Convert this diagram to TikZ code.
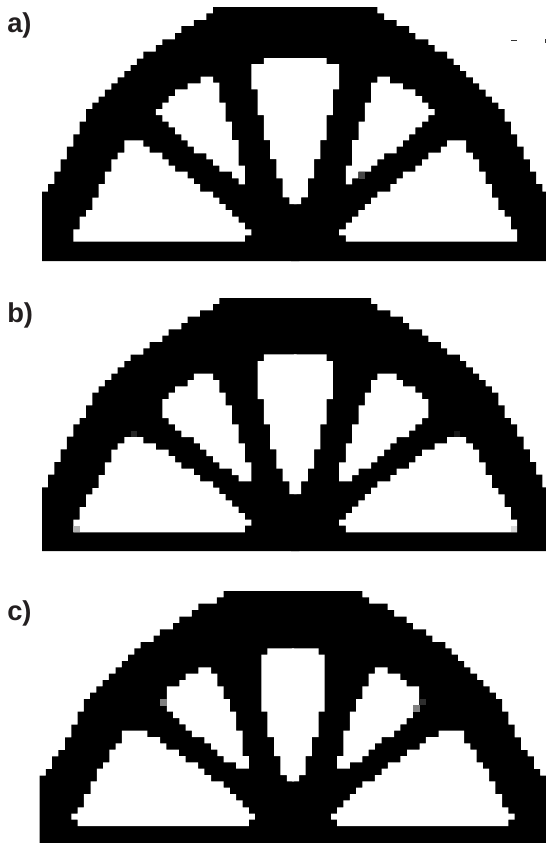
\documentclass[tikz,border=0pt]{standalone}
\usepackage{fontspec}
\setmainfont{Liberation Sans}
\definecolor{lab}{HTML}{231F20}
\newcommand{\mirrored}[2]{#2\begin{scope}[x=-0.26114pt,shift={(-#1,0)}]#2\end{scope}}
\tikzset{
  panel/.style={x=0.26114pt,y=-0.25pt,shift={(0,#1)}},
  solid part/.style={fill=black},
  hole/.style={fill=white},
  panel label/.style={anchor=base west,inner sep=0pt,font=\fontsize{20.5pt}{21pt}\selectfont\bfseries,text=lab}
}
\begin{document}
\begin{tikzpicture}[x=0.75pt,y=-0.75pt]
\useasboundingbox (0,0) rectangle (546,843);
\fill[white] (0,0) rectangle (546,843);
\clip (0,0) rectangle (546,843);
% ---------- panel a
\begin{scope}[panel=0]
\mirrored{1696}{%
\path[solid part] (860,783)--(121,783)--(121,575)--(138,575)--(138,552)--(156,552)--(156,515)--(174,515)--(174,478)--(192,478)--(192,440)--(211,440)--(211,403)--(229,403)--(229,365)--(247,365)--(247,327)--(265,327)--(265,308)--(283,308)--(283,290)--(301,290)--(301,269)--(320,269)--(320,250)--(338,250)--(338,232)--(357,232)--(357,213)--(375,213)--(375,195)--(393,195)--(393,176)--(412,176)--(412,155)--(448,155)--(448,135)--(466,135)--(466,118)--(503,118)--(503,99)--(521,99)--(521,78)--(557,78)--(557,60)--(593,60)--(593,40)--(612,40)--(612,21)--(860,21)--cycle;
}
\mirrored{1696}{%
\path[hole] (852,174)--(758,174)--(758,192)--(722,192)--(722,268)--(740,268)--(740,345)--(758,345)--(758,420)--(776,420)--(776,477)--(794,477)--(794,535)--(812,535)--(812,592)--(831,592)--(831,612)--(852,612)--cycle;
\path[hole] (576,230)--(612,230)--(612,248)--(630,248)--(630,308)--(648,308)--(648,365)--(666,365)--(666,420)--(685,420)--(685,497)--(703,497)--(703,553)--(685,553)--(685,535)--(667,535)--(667,515)--(630,515)--(630,497)--(612,497)--(612,478)--(593,478)--(593,460)--(557,460)--(557,440)--(539,440)--(539,421)--(521,421)--(521,403)--(503,403)--(503,382)--(484,382)--(484,365)--(466,365)--(466,345)--(448,345)--(448,327)--(466,327)--(466,308)--(484,308)--(484,288)--(503,288)--(503,268)--(539,268)--(539,250)--(576,250)--cycle;
\path[hole] (211,725)--(211,688)--(229,688)--(229,650)--(247,650)--(247,630)--(265,630)--(265,593)--(283,593)--(283,552)--(301,552)--(301,515)--(320,515)--(320,478)--(338,478)--(338,458)--(357,458)--(357,421)--(412,421)--(412,440)--(430,440)--(430,458)--(466,458)--(466,478)--(484,478)--(484,497)--(503,497)--(503,515)--(539,515)--(539,535)--(557,535)--(557,552)--(575,552)--(575,575)--(612,575)--(612,593)--(630,593)--(630,612)--(648,612)--(648,630)--(667,630)--(667,650)--(685,650)--(685,668)--(703,668)--(703,688)--(722,688)--(722,706)--(703,706)--(703,725)--cycle;
}
\fill[black!72] (1030,516) rectangle (1048,536);
\fill[black!80] (1468,120) rectangle (1484,124);
\fill[black!80] (1564,118) rectangle (1568,130);
\end{scope}
% ---------- panel b
\begin{scope}[panel=855]
\mirrored{1696}{%
\path[solid part] (860,798)--(121,798)--(121,607)--(138,607)--(138,569)--(156,569)--(156,531)--(174,531)--(174,493)--(192,493)--(192,455)--(211,455)--(211,418)--(229,418)--(229,399)--(247,399)--(247,361)--(265,361)--(265,323)--(283,323)--(283,304)--(301,304)--(301,285)--(320,285)--(320,266)--(338,266)--(338,247)--(357,247)--(357,228)--(375,228)--(375,209)--(412,209)--(412,190)--(430,190)--(430,171)--(466,171)--(466,152)--(484,152)--(484,133)--(521,133)--(521,114)--(539,114)--(539,95)--(575,95)--(575,76)--(612,76)--(612,57)--(630,57)--(630,39)--(860,39)--cycle;
}
\mirrored{1696}{%
\path[hole] (852,208)--(758,208)--(758,228)--(740,228)--(740,342)--(758,342)--(758,418)--(776,418)--(776,493)--(794,493)--(794,551)--(812,551)--(812,589)--(831,589)--(831,627)--(852,627)--cycle;
\path[hole] (557,266)--(612,266)--(612,285)--(630,285)--(630,323)--(648,323)--(648,361)--(666,361)--(666,418)--(685,418)--(685,475)--(703,475)--(703,532)--(722,532)--(722,589)--(685,589)--(685,570)--(666,570)--(666,551)--(630,551)--(630,532)--(612,532)--(612,513)--(593,513)--(593,494)--(575,494)--(575,475)--(557,475)--(557,456)--(521,456)--(521,437)--(503,437)--(503,418)--(484,418)--(484,399)--(466,399)--(466,342)--(484,342)--(484,323)--(503,323)--(503,304)--(539,304)--(539,285)--(557,285)--cycle;
\path[hole] (211,742)--(211,704)--(229,704)--(229,666)--(247,666)--(247,628)--(265,628)--(265,609)--(283,609)--(283,570)--(301,570)--(301,532)--(320,532)--(320,494)--(338,494)--(338,475)--(357,475)--(357,456)--(412,456)--(412,475)--(448,475)--(448,494)--(484,494)--(484,513)--(503,513)--(503,532)--(521,532)--(521,551)--(557,551)--(557,570)--(575,570)--(575,589)--(612,589)--(612,608)--(630,608)--(630,627)--(648,627)--(648,646)--(667,646)--(667,665)--(685,665)--(685,684)--(703,684)--(703,704)--(722,704)--(722,722)--(703,722)--(703,742)--cycle;
}
\fill[black!30] (211,722) rectangle (229,742);
\fill[black!15] (1467,722) rectangle (1486,742);
\fill[black!85] (375,437) rectangle (393,456);
\fill[black!90] (1303,437) rectangle (1321,456);
\end{scope}
% ---------- panel c
\begin{scope}[panel=1710]
\mirrored{1683}{%
\path[solid part] (850,830)--(114,830)--(114,617)--(132,617)--(132,597)--(150,597)--(150,559)--(168,559)--(168,540)--(187,540)--(187,502)--(205,502)--(205,464)--(223,464)--(223,425)--(241,425)--(241,387)--(259,387)--(259,368)--(277,368)--(277,349)--(295,349)--(295,330)--(313,330)--(313,311)--(332,311)--(332,292)--(350,292)--(350,273)--(368,273)--(368,254)--(386,254)--(386,235)--(404,235)--(404,216)--(441,216)--(441,197)--(459,197)--(459,178)--(497,178)--(497,159)--(515,159)--(515,140)--(551,140)--(551,120)--(570,120)--(570,101)--(623,101)--(623,82)--(642,82)--(642,63)--(850,63)--cycle;
}
\mirrored{1683}{%
\path[hole] (845,235)--(768,235)--(768,254)--(751,254)--(751,425)--(768,425)--(768,501)--(787,501)--(787,558)--(805,558)--(805,615)--(824,615)--(824,634)--(845,634)--cycle;
\path[hole] (570,292)--(606,292)--(606,311)--(624,311)--(624,349)--(642,349)--(642,387)--(660,387)--(660,425)--(678,425)--(678,482)--(697,482)--(697,558)--(715,558)--(715,596)--(678,596)--(678,577)--(642,577)--(642,558)--(624,558)--(624,539)--(606,539)--(606,520)--(587,520)--(587,501)--(551,501)--(551,482)--(533,482)--(533,463)--(515,463)--(515,444)--(497,444)--(497,425)--(479,425)--(479,349)--(515,349)--(515,330)--(533,330)--(533,311)--(570,311)--cycle;
\path[hole] (223,768)--(223,749)--(205,749)--(205,731)--(223,731)--(223,712)--(241,712)--(241,672)--(260,672)--(260,634)--(278,634)--(278,596)--(296,596)--(296,577)--(314,577)--(314,539)--(332,539)--(332,520)--(350,520)--(350,482)--(423,482)--(423,501)--(460,501)--(460,520)--(478,520)--(478,539)--(514,539)--(514,558)--(533,558)--(533,577)--(569,577)--(569,596)--(587,596)--(587,615)--(606,615)--(606,634)--(642,634)--(642,653)--(660,653)--(660,672)--(678,672)--(678,691)--(697,691)--(697,712)--(715,712)--(715,731)--(732,731)--(732,749)--(715,749)--(715,768)--cycle;
}
\fill[black!50] (460,387) rectangle (479,407);
\fill[black!50] (1187,406) rectangle (1206,425);
\fill[black!82] (1206,387) rectangle (1224,406);
\end{scope}
% ---------- labels
\node[panel label] (la) at (7,32) {a)};
\node[panel label] (lb) at (7,322.5) {b)};
\node[panel label] (lc) at (7,620) {c)};
\end{tikzpicture}
\end{document}
